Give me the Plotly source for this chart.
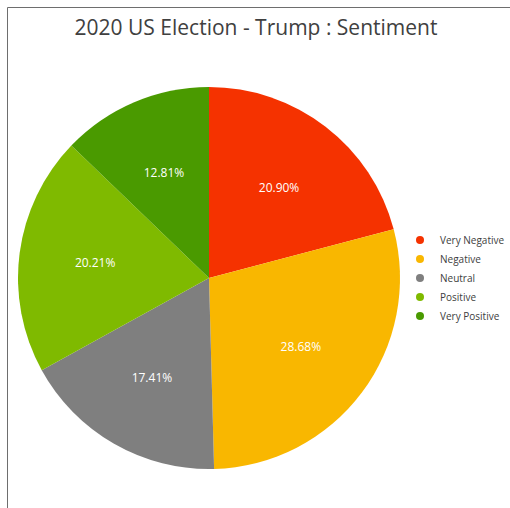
import plotly.graph_objects as go

labels = ["Very Negative", "Negative", "Neutral", "Positive", "Very Positive"]
values = [20.90, 28.68, 17.41, 20.21, 12.81]
colors = ["#F53200", "#F9B700", "#7F7F7F", "#7FBA00", "#4A9A00"]
title_text = "2020 US Election - Trump : Sentiment"

W, H = 510, 508
CX, CY, R = 209, 278, 191      # pie centre / radius in px
RL = 140                       # radius of transparent label ring

fig = go.Figure()
# main pie (no text)
fig.add_trace(go.Pie(
    labels=labels, values=values, sort=False, direction="clockwise", rotation=0,
    marker=dict(colors=colors, line=dict(width=0)),
    textinfo="none",
    domain=dict(x=[(CX - R) / W, (CX + R) / W], y=[1 - (CY + R) / H, 1 - (CY - R) / H]),
    showlegend=False, hoverinfo="label+percent",
))
# transparent ring carrying the percentage labels at ~0.6 R
fig.add_trace(go.Pie(
    labels=labels, values=values, sort=False, direction="clockwise", rotation=0,
    hole=0.64,
    marker=dict(colors=["rgba(0,0,0,0)"] * len(labels), line=dict(width=0)),
    texttemplate="%{percent:.2%}", textposition="inside",
    insidetextorientation="horizontal",
    textfont=dict(color="white", size=12, family="Open Sans"),
    domain=dict(x=[(CX - RL) / W, (CX + RL) / W], y=[1 - (CY + RL) / H, 1 - (CY - RL) / H]),
    showlegend=False, hoverinfo="skip",
))
for lab, col in zip(labels, colors):
    fig.add_trace(go.Scatter(
        x=[None], y=[None], mode="markers", name=lab,
        marker=dict(color=col, size=8, symbol="circle"),
        showlegend=True,
    ))

fig.update_layout(
    width=W, height=H,
    margin=dict(l=0, r=0, t=0, b=0),
    paper_bgcolor="white", plot_bgcolor="white",
    xaxis=dict(visible=False), yaxis=dict(visible=False),
    title=dict(text=title_text, x=256 / W, xanchor="center", y=1 - 28 / H, yanchor="middle",
               font=dict(family="Open Sans", size=21, color="#404040")),
    legend=dict(x=400 / W, xanchor="left", y=1 - 278 / H, yanchor="middle",
                font=dict(family="Open Sans", size=10, color="#404040"),
                itemwidth=30, tracegroupgap=0, borderwidth=0, bgcolor="rgba(0,0,0,0)"),
    shapes=[
        dict(type="line", xref="paper", yref="paper", x0=7.5 / W, x1=1, y0=1 - 7.5 / H, y1=1 - 7.5 / H,
             line=dict(color="#6E6E6E", width=1)),
        dict(type="line", xref="paper", yref="paper", x0=7.5 / W, x1=7.5 / W, y0=0, y1=1 - 7.5 / H,
             line=dict(color="#6E6E6E", width=1)),
    ],
)

fig.write_html("out.html")
